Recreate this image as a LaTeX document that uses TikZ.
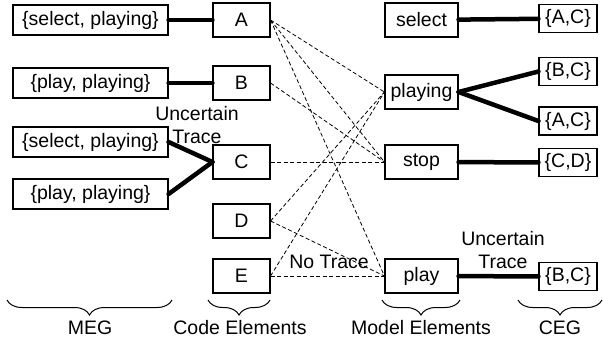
\documentclass[tikz,border=0pt]{standalone}
\usepackage{fontspec}
\setmainfont{Liberation Sans}
\usetikzlibrary{decorations.pathreplacing}

\begin{document}
\begin{tikzpicture}[
    x=1pt, y=-1pt,
    font=\fontsize{19.5}{23.5}\selectfont,
    elem/.style={draw, line width=1.1pt, inner sep=0pt},
    megbox/.style={elem, minimum width=155pt, minimum height=30pt},
    codebox/.style={elem, minimum width=57pt, minimum height=34pt},
    modelbox/.style={elem, minimum width=73pt, minimum height=34pt},
    cegbox/.style={elem, minimum width=58pt, minimum height=28pt},
    link/.style={line width=4.5pt, line cap=round},
    trace/.style={line width=0.8pt, dash pattern=on 4pt off 2.5pt},
    group/.style={decorate, decoration={brace, mirror, amplitude=15pt}, line width=1pt}
]
\useasboundingbox (0,0) rectangle (603,343);

% MEG
\node[megbox] (meg1) at (90.5,20) {\{select, playing\}};
\node[megbox] (meg2) at (90.5,83) {\{play, playing\}};
\node[megbox] (meg3) at (90.5,142) {\{select, playing\}};
\node[megbox] (meg4) at (90.5,194) {\{play, playing\}};

% Code elements
\node[codebox] (A) at (241.5,20) {A};
\node[codebox] (B) at (241.5,83) {B};
\node[codebox] (C) at (241.5,162) {C};
\node[codebox] (D) at (241.5,221) {D};
\node[codebox] (E) at (241.5,276) {E};

% Model elements
\node[modelbox] (select) at (421.5,20) {select};
\node[modelbox] (playing) at (421.5,92) {playing};
\node[modelbox] (stop) at (421.5,162) {stop};
\node[modelbox] (play) at (421.5,276) {play};

% CEG
\node[cegbox] (ceg1) at (568,18.5) {\{A,C\}};
\node[cegbox] (ceg2) at (568,71.5) {\{B,C\}};
\node[cegbox] (ceg3) at (568,121) {\{A,C\}};
\node[cegbox] (ceg4) at (568,162.5) {\{C,D\}};
\node[cegbox] (ceg5) at (568,276.5) {\{B,C\}};

% MEG to code
\draw[link] (meg1) -- (A);
\draw[link] (meg2) -- (B);
\draw[link] (meg3.east) -- (C.west);
\draw[link] (meg4.east) -- (C.west);
\node[align=center] (unc1) at (197,125) {Uncertain\\Trace};

% model to CEG
\draw[link] (select) -- (ceg1);
\draw[link] (playing.east) -- (ceg2.west);
\draw[link] (playing.east) -- (ceg3.west);
\draw[link] (stop) -- (ceg4);
\draw[link] (play) -- (ceg5);
\node[align=center] (unc2) at (503,250) {Uncertain\\Trace};

% trace links
\draw[trace] (A.east) -- (playing.west);
\draw[trace] (A.east) -- (stop.west);
\draw[trace] (A.east) -- (play.west);
\draw[trace] (B.east) -- (stop.west);
\draw[trace] (C.east) -- (stop.west);
\draw[trace] (D.east) -- (playing.west);
\draw[trace] (D.east) -- (play.west);
\draw[trace] (E.east) -- (playing.west);
\draw[trace] (E.east) -- (play.west);
\node (notrace) at (329,262) {No Trace};

% groups
\draw[group] (7,300) -- (172,300);
\draw[group] (208,300) -- (270,300);
\draw[group] (382,300) -- (460,300);
\draw[group] (518,300) -- (602,300);
\node (megl) at (90,328) {MEG};
\node (codel) at (240,328) {Code Elements};
\node (modell) at (421,328) {Model Elements};
\node (cegl) at (560,328) {CEG};

\end{tikzpicture}
\end{document}
